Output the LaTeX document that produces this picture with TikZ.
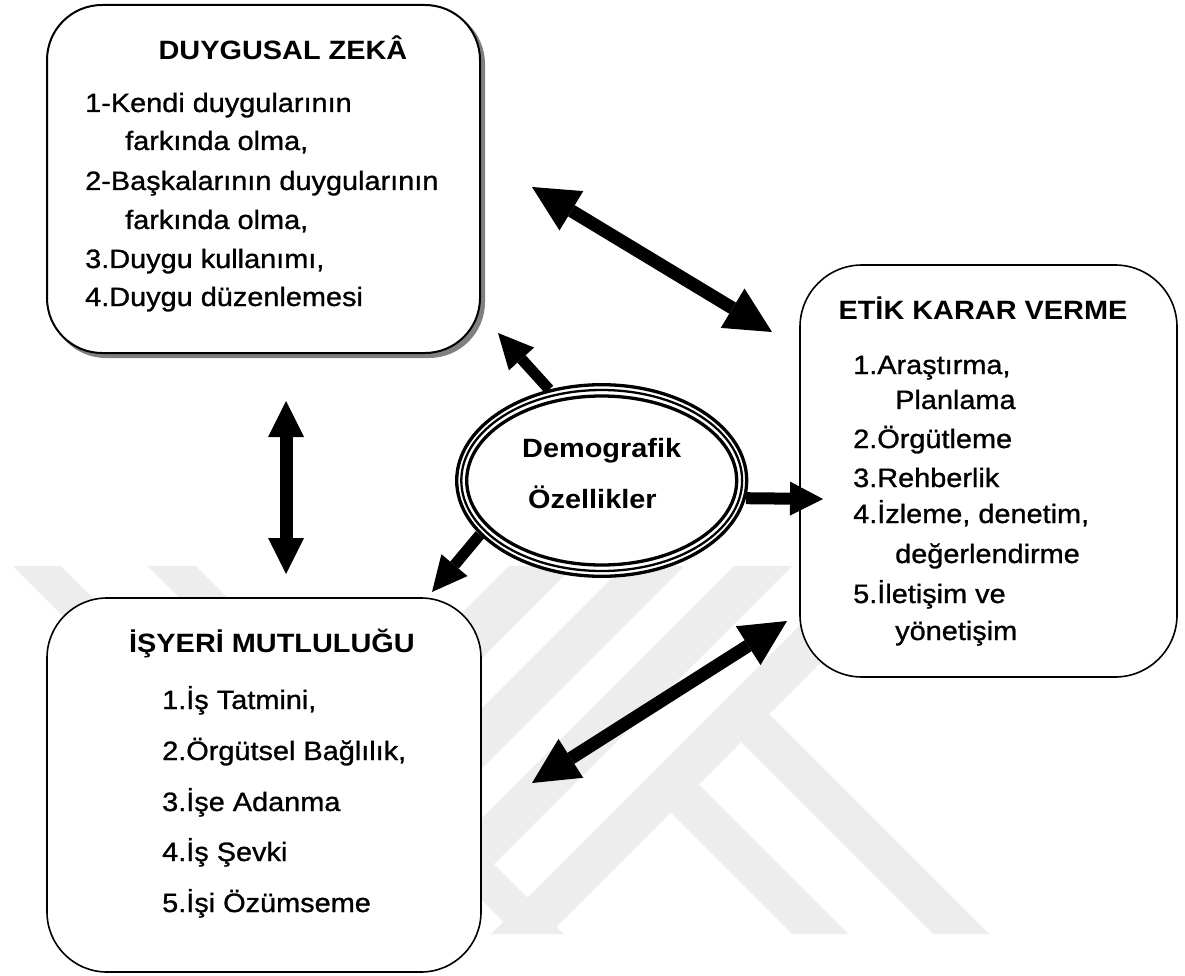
\documentclass[tikz,border=0pt]{standalone}
\usepackage{fontspec}
\setmainfont{Liberation Sans}[FakeStretch=1.09, UprightFeatures={FakeBold=1}]
\usetikzlibrary{arrows.meta,shapes.geometric,shadows}
\begin{document}
\begin{tikzpicture}[x=1pt,y=-1pt,
  every node/.style={inner sep=0pt},
  box/.style={draw, line width=1.6pt, fill=white, rounded corners=#1},
  itemtext/.style={anchor=base west, font=\fontsize{26.5}{30}\selectfont},
  headtext/.style={anchor=base, font=\fontsize{26.5}{30}\selectfont\bfseries},
  ovaltext/.style={anchor=base west, font=\fontsize{26.5}{30}\selectfont\bfseries},
  wband/.style={fill=black!7, draw=none},
  bigboth/.style={line width=13pt,
    {Triangle[length=46pt,width=46pt,line width=0pt]}-{Triangle[length=46pt,width=46pt,line width=0pt]}},
  vboth/.style={line width=13pt,
    {Triangle[length=36pt,width=36pt,line width=0pt]}-{Triangle[length=36pt,width=36pt,line width=0pt]}},
  oneway/.style={line width=11pt, -{Triangle[length=35pt,width=34pt,line width=0pt]}},
  onewayE/.style={line width=12pt, -{Triangle[length=33pt,width=34pt,line width=0pt]}},
]
\useasboundingbox (0,0) rectangle (1185,976);
\fill[white] (0,0) rectangle (1185,976);

% faint background logo made of diagonal bands
\begin{scope}
  \clip (0,566) rectangle (1185,934);
  \foreach \a/\b in {1075/1140,1190/1250,1300/1358,1425/1483}
    \fill[wband] (\a-566,566) -- (\b-566,566) -- (\b-934,934) -- (\a-934,934) -- cycle;
  \foreach \a/\b in {-553/-505,-418/-370}
    \fill[wband] (566+\a,566) -- (566+\b,566) -- (934+\b,934) -- (934+\a,934) -- cycle;
  \fill[wband] (741,742) -- (769,714) -- (989,934) -- (933,934) -- cycle;
  \fill[wband] (670,812) -- (698.5,784.5) -- (848,934) -- (792,934) -- cycle;
\end{scope}

% the three boxes
\node[box=55pt, line width=2pt, minimum width=433pt, minimum height=348pt,
  copy shadow={shadow xshift=4pt, shadow yshift=-4pt, fill=black!50, draw=black!50}]
  (dz) at (263.5,179) {};
\node[box=62pt, minimum width=377pt, minimum height=412pt] (ek) at (988.5,471) {};
\node[box=60pt, minimum width=434pt, minimum height=374pt] (is) at (264,785) {};

% central oval with a triple outline
\node[ellipse, draw, line width=3.3pt, fill=white, minimum width=290pt, minimum height=191.6pt]
  (demo) at (601.7,480.5) {};
\draw[line width=2.3pt] (demo.center) ellipse [x radius=140.4pt, y radius=90.5pt];
\draw[line width=3.3pt] (demo.center) ellipse [x radius=135pt, y radius=84.5pt];

% arrow end points
\coordinate (a1s) at (532,187);
\coordinate (a1e) at (772,332);
\coordinate (vt) at (286,401);
\coordinate (vb) at (286,574);
\coordinate (a6s) at (532,783);
\coordinate (a6e) at (787,621);
\coordinate (tz) at (498,333);
\coordinate (ti) at (432,592);
\coordinate (te) at (823,499);

% arrows
\draw[bigboth] (a1s) -- (a1e);
\draw[vboth] (vt) -- (vb);
\draw[bigboth] (a6s) -- (a6e);
\draw[oneway] (demo.120) -- (tz);
\draw[oneway] (demo.204) -- (ti);
\draw[onewayE] (demo.-7.5) -- (te);

% texts: Duygusal Zeka
\node[headtext] (dzh) at (283,60) {DUYGUSAL ZEKÂ};
\node[itemtext] (dz1) at (85,112) {1-Kendi duygularının};
\node[itemtext] (dz2) at (125,150) {farkında olma,};
\node[itemtext] (dz3) at (85,190) {2-Başkalarının duygularının};
\node[itemtext] (dz4) at (125,229) {farkında olma,};
\node[itemtext] (dz5) at (85,268) {3.Duygu kullanımı,};
\node[itemtext] (dz6) at (85,306) {4.Duygu düzenlemesi};

% texts: Etik Karar Verme
\node[headtext] (ekh) at (983,319) {ETİK KARAR VERME};
\node[itemtext] (ek1) at (853,374) {1.Araştırma,};
\node[itemtext] (ek2) at (895,409) {Planlama};
\node[itemtext] (ek3) at (853,448) {2.Örgütleme};
\node[itemtext] (ek4) at (853,487) {3.Rehberlik};
\node[itemtext] (ek5) at (853,523) {4.İzleme, denetim,};
\node[itemtext] (ek6) at (895,563) {değerlendirme};
\node[itemtext] (ek7) at (853,603) {5.İletişim ve};
\node[itemtext] (ek8) at (895,640) {yönetişim};

% texts: Isyeri Mutlulugu
\node[headtext] (ish) at (272,652) {İŞYERİ MUTLULUĞU};
\node[itemtext] (is1) at (162,709) {1.İş Tatmini,};
\node[itemtext] (is2) at (162,760) {2.Örgütsel Bağlılık,};
\node[itemtext] (is3) at (162,811) {3.İşe Adanma};
\node[itemtext] (is4) at (162,861) {4.İş Şevki};
\node[itemtext] (is5) at (162,912) {5.İşi Özümseme};

% texts: oval
\node[ovaltext] (dm1) at (522,457) {Demografik};
\node[ovaltext] (dm2) at (528,508) {Özellikler};
\end{tikzpicture}
\end{document}
